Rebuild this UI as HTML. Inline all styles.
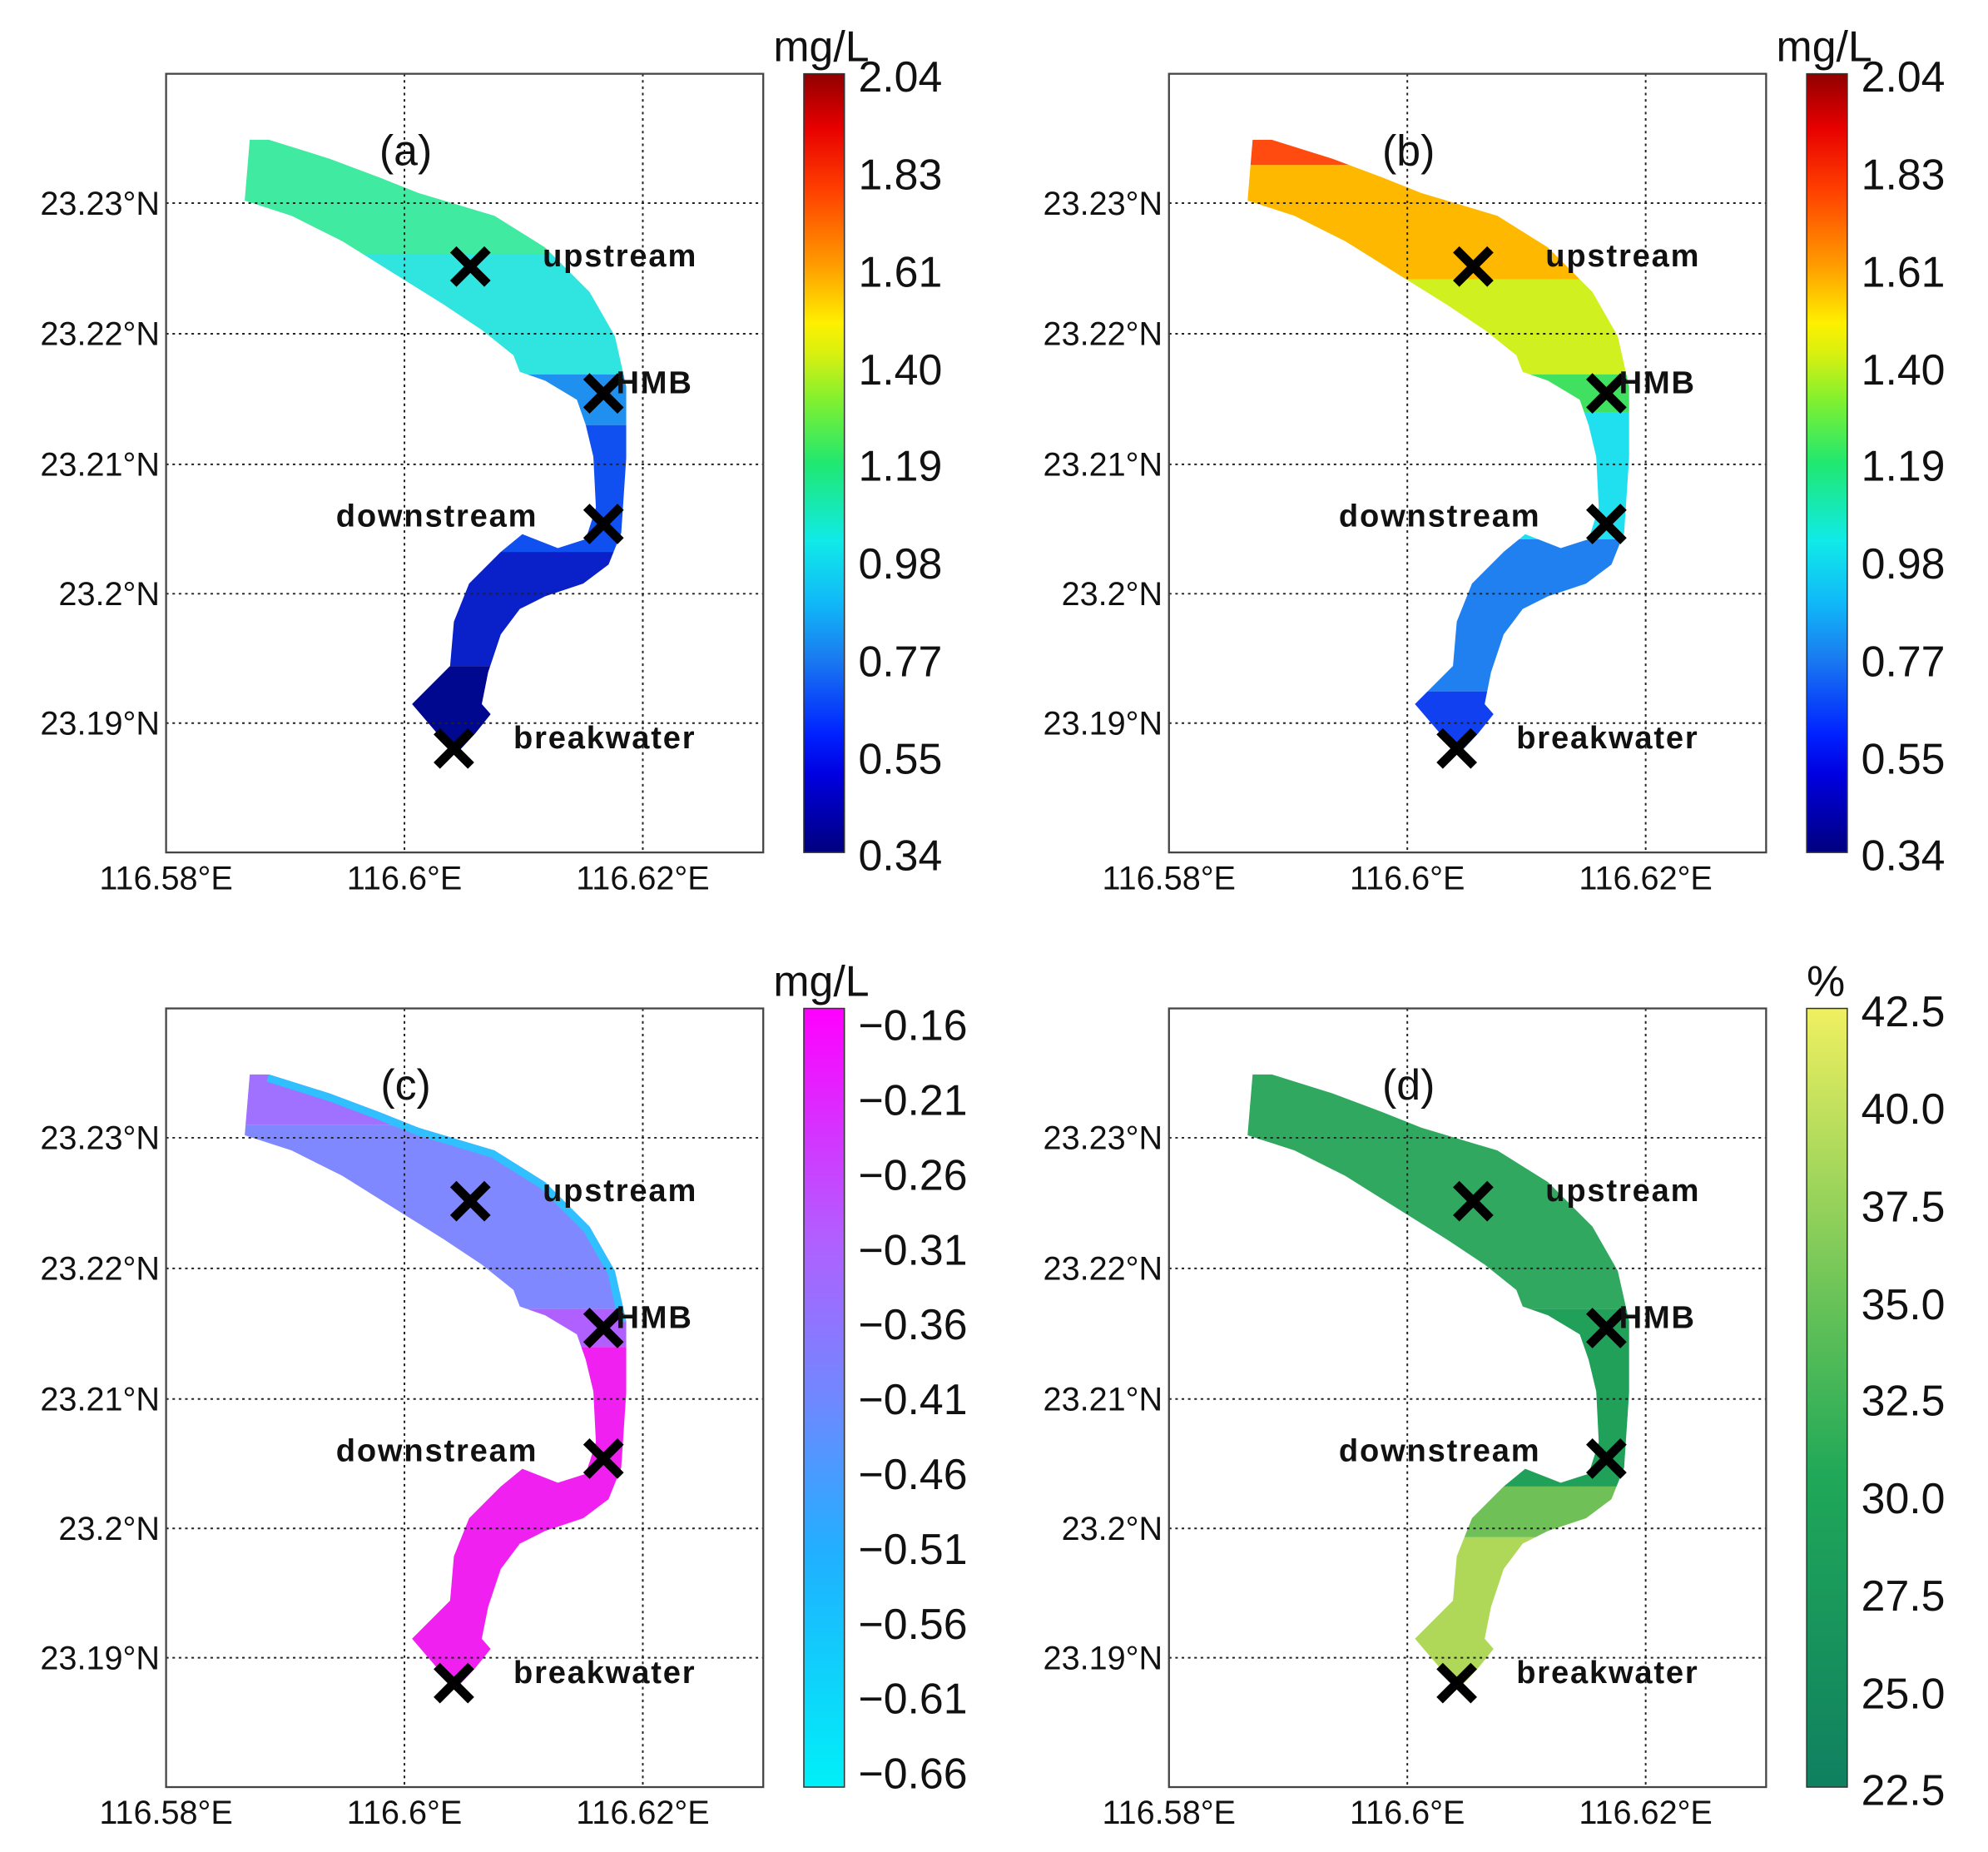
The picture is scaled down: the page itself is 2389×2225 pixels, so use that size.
<!DOCTYPE html>
<html><head><meta charset="utf-8"><style>
html,body{margin:0;padding:0;background:#fff;}
svg{display:block;}
text{font-family:"Liberation Sans","DejaVu Sans",sans-serif;fill:#111;}
.t{font-size:26px;}
.c{font-size:34px;}
.b{font-size:25px;font-weight:bold;letter-spacing:1.2px;}
.g{stroke:#222;stroke-width:1.3;stroke-dasharray:2,3;}
</style></head><body>
<svg width="2389" height="2225" viewBox="0 0 1568 1460" xmlns="http://www.w3.org/2000/svg">
<defs>
<path id="river" d="M197,110 L212,110 L260,125 L300,140 L330,152 L390,170 L430,195 L465,230 L485,265 L494,305 L494,360 L490,420 L480,445 L460,460 L430,470 L410,480 L395,500 L385,530 L380,555 L387,563 L375,578 L362,592 L355,590 L325,555 L355,525 L358,490 L370,460 L395,435 L412,421 L440,432 L462,425 L470,400 L468,360 L462,335 L455,315 L430,300 L410,293 L405,280 L380,260 L350,240 L310,215 L270,190 L230,170 L193,158 Z"/>
<clipPath id="rc"><use href="#river"/></clipPath>
<path id="xm" d="M-11,-16 L0,-5 L11,-16 L16,-11 L5,0 L16,11 L11,16 L0,5 L-11,16 L-16,11 L-5,0 L-16,-11 Z"/>
<linearGradient id="jet" x1="0" y1="1" x2="0" y2="0">
<stop offset="0" stop-color="#00007f"/><stop offset="0.1" stop-color="#0000e0"/><stop offset="0.15" stop-color="#0020ff"/><stop offset="0.25" stop-color="#1a7cf0"/><stop offset="0.32" stop-color="#10b8f8"/><stop offset="0.4" stop-color="#10eae8"/><stop offset="0.5" stop-color="#20e870"/><stop offset="0.58" stop-color="#80f030"/><stop offset="0.64" stop-color="#d8f010"/><stop offset="0.68" stop-color="#fff000"/><stop offset="0.75" stop-color="#ffa000"/><stop offset="0.85" stop-color="#ff4000"/><stop offset="0.93" stop-color="#e80000"/><stop offset="1" stop-color="#900000"/>
</linearGradient>
<linearGradient id="cool" x1="0" y1="1" x2="0" y2="0">
<stop offset="0" stop-color="#00f0f8"/><stop offset="0.3" stop-color="#20b0ff"/><stop offset="0.5" stop-color="#7088ff"/><stop offset="0.7" stop-color="#b060ff"/><stop offset="1" stop-color="#ff00ff"/>
</linearGradient>
<linearGradient id="summ" x1="0" y1="1" x2="0" y2="0">
<stop offset="0" stop-color="#108060"/><stop offset="0.4" stop-color="#20a858"/><stop offset="0.6" stop-color="#60c058"/><stop offset="1" stop-color="#f0f060"/>
</linearGradient>
</defs>

<g>
<g clip-path="url(#rc)">
<rect x="150" y="90" width="400" height="110" fill="#40eaa0"/>
<rect x="150" y="200" width="400" height="95" fill="#30e4e0"/>
<rect x="150" y="295" width="400" height="40" fill="#2090f0"/>
<rect x="150" y="335" width="400" height="100" fill="#1050f0"/>
<rect x="150" y="435" width="400" height="90" fill="#0a20c8"/>
<rect x="150" y="525" width="400" height="80" fill="#00088f"/>
</g>
</g>
<g transform="translate(791,0)">
<g clip-path="url(#rc)">
<rect x="150" y="90" width="400" height="40" fill="#ff4a10"/>
<rect x="150" y="130" width="400" height="90" fill="#ffb800"/>
<rect x="150" y="220" width="400" height="75" fill="#d0f020"/>
<rect x="150" y="295" width="400" height="30" fill="#40e060"/>
<rect x="150" y="325" width="400" height="100" fill="#20e0f0"/>
<rect x="150" y="425" width="400" height="120" fill="#2080f0"/>
<rect x="150" y="545" width="400" height="60" fill="#1040f0"/>
</g>
</g>
<g transform="translate(0,737)">
<g clip-path="url(#rc)">
<rect x="150" y="90" width="400" height="60" fill="#a070ff"/>
<rect x="150" y="150" width="400" height="145" fill="#8088ff"/>
<rect x="150" y="295" width="400" height="30" fill="#b060ff"/>
<rect x="150" y="325" width="400" height="280" fill="#f020f0"/>
</g>
<path d="M212,110 L260,125 L300,140 L330,152 L390,170 L430,195 L465,230 L485,265 L494,305" fill="none" stroke="#30c0ff" stroke-width="12" clip-path="url(#rc)"/>
</g>
<g transform="translate(791,737)">
<g clip-path="url(#rc)">
<rect x="150" y="90" width="400" height="205" fill="#30a860"/>
<rect x="150" y="295" width="400" height="140" fill="#20a058"/>
<rect x="150" y="435" width="400" height="40" fill="#70c058"/>
<rect x="150" y="475" width="400" height="130" fill="#b0d858"/>
</g>
</g>

<g>
<line class="g" x1="319" y1="58" x2="319" y2="672"/><line class="g" x1="507" y1="58" x2="507" y2="672"/>
<line class="g" x1="131" y1="160" x2="602" y2="160"/><line class="g" x1="131" y1="263" x2="602" y2="263"/><line class="g" x1="131" y1="366" x2="602" y2="366"/><line class="g" x1="131" y1="468" x2="602" y2="468"/><line class="g" x1="131" y1="570" x2="602" y2="570"/>
<rect x="131" y="58" width="471" height="614" fill="none" stroke="#444" stroke-width="1.5"/>
<text class="t" x="126" y="169" text-anchor="end">23.23°N</text><text class="t" x="126" y="272" text-anchor="end">23.22°N</text><text class="t" x="126" y="375" text-anchor="end">23.21°N</text><text class="t" x="126" y="477" text-anchor="end">23.2°N</text><text class="t" x="126" y="579" text-anchor="end">23.19°N</text>
<text class="t" x="131" y="701" text-anchor="middle">116.58°E</text><text class="t" x="319" y="701" text-anchor="middle">116.6°E</text><text class="t" x="507" y="701" text-anchor="middle">116.62°E</text>
<text class="c" x="320" y="130" text-anchor="middle">(a)</text>
<use href="#xm" x="371" y="210"/><use href="#xm" x="476" y="310"/><use href="#xm" x="476" y="413"/><use href="#xm" x="358" y="590"/>
<text class="b" x="428" y="210">upstream</text><text class="b" x="486" y="310">HMB</text><text class="b" x="265" y="415">downstream</text><text class="b" x="405" y="590">breakwater</text>
<rect x="634" y="58" width="32" height="614" fill="url(#jet)" stroke="#333"/>
<text class="c" x="610" y="48">mg/L</text>
<text class="c" x="677" y="72">2.04</text><text class="c" x="677" y="149">1.83</text><text class="c" x="677" y="226">1.61</text><text class="c" x="677" y="303">1.40</text><text class="c" x="677" y="379">1.19</text><text class="c" x="677" y="456">0.98</text><text class="c" x="677" y="533">0.77</text><text class="c" x="677" y="610">0.55</text><text class="c" x="677" y="686">0.34</text>
</g>
<g transform="translate(791,0)">
<line class="g" x1="319" y1="58" x2="319" y2="672"/><line class="g" x1="507" y1="58" x2="507" y2="672"/>
<line class="g" x1="131" y1="160" x2="602" y2="160"/><line class="g" x1="131" y1="263" x2="602" y2="263"/><line class="g" x1="131" y1="366" x2="602" y2="366"/><line class="g" x1="131" y1="468" x2="602" y2="468"/><line class="g" x1="131" y1="570" x2="602" y2="570"/>
<rect x="131" y="58" width="471" height="614" fill="none" stroke="#444" stroke-width="1.5"/>
<text class="t" x="126" y="169" text-anchor="end">23.23°N</text><text class="t" x="126" y="272" text-anchor="end">23.22°N</text><text class="t" x="126" y="375" text-anchor="end">23.21°N</text><text class="t" x="126" y="477" text-anchor="end">23.2°N</text><text class="t" x="126" y="579" text-anchor="end">23.19°N</text>
<text class="t" x="131" y="701" text-anchor="middle">116.58°E</text><text class="t" x="319" y="701" text-anchor="middle">116.6°E</text><text class="t" x="507" y="701" text-anchor="middle">116.62°E</text>
<text class="c" x="320" y="130" text-anchor="middle">(b)</text>
<use href="#xm" x="371" y="210"/><use href="#xm" x="476" y="310"/><use href="#xm" x="476" y="413"/><use href="#xm" x="358" y="590"/>
<text class="b" x="428" y="210">upstream</text><text class="b" x="486" y="310">HMB</text><text class="b" x="265" y="415">downstream</text><text class="b" x="405" y="590">breakwater</text>
<rect x="634" y="58" width="32" height="614" fill="url(#jet)" stroke="#333"/>
<text class="c" x="610" y="48">mg/L</text>
<text class="c" x="677" y="72">2.04</text><text class="c" x="677" y="149">1.83</text><text class="c" x="677" y="226">1.61</text><text class="c" x="677" y="303">1.40</text><text class="c" x="677" y="379">1.19</text><text class="c" x="677" y="456">0.98</text><text class="c" x="677" y="533">0.77</text><text class="c" x="677" y="610">0.55</text><text class="c" x="677" y="686">0.34</text>
</g>
<g transform="translate(0,737)">
<line class="g" x1="319" y1="58" x2="319" y2="672"/><line class="g" x1="507" y1="58" x2="507" y2="672"/>
<line class="g" x1="131" y1="160" x2="602" y2="160"/><line class="g" x1="131" y1="263" x2="602" y2="263"/><line class="g" x1="131" y1="366" x2="602" y2="366"/><line class="g" x1="131" y1="468" x2="602" y2="468"/><line class="g" x1="131" y1="570" x2="602" y2="570"/>
<rect x="131" y="58" width="471" height="614" fill="none" stroke="#444" stroke-width="1.5"/>
<text class="t" x="126" y="169" text-anchor="end">23.23°N</text><text class="t" x="126" y="272" text-anchor="end">23.22°N</text><text class="t" x="126" y="375" text-anchor="end">23.21°N</text><text class="t" x="126" y="477" text-anchor="end">23.2°N</text><text class="t" x="126" y="579" text-anchor="end">23.19°N</text>
<text class="t" x="131" y="701" text-anchor="middle">116.58°E</text><text class="t" x="319" y="701" text-anchor="middle">116.6°E</text><text class="t" x="507" y="701" text-anchor="middle">116.62°E</text>
<text class="c" x="320" y="130" text-anchor="middle">(c)</text>
<use href="#xm" x="371" y="210"/><use href="#xm" x="476" y="310"/><use href="#xm" x="476" y="413"/><use href="#xm" x="358" y="590"/>
<text class="b" x="428" y="210">upstream</text><text class="b" x="486" y="310">HMB</text><text class="b" x="265" y="415">downstream</text><text class="b" x="405" y="590">breakwater</text>
<rect x="634" y="58" width="32" height="614" fill="url(#cool)" stroke="#333"/>
<text class="c" x="610" y="48">mg/L</text>
<text class="c" x="677" y="83">−0.16</text><text class="c" x="677" y="142">−0.21</text><text class="c" x="677" y="201">−0.26</text><text class="c" x="677" y="260">−0.31</text><text class="c" x="677" y="319">−0.36</text><text class="c" x="677" y="378">−0.41</text><text class="c" x="677" y="437">−0.46</text><text class="c" x="677" y="496">−0.51</text><text class="c" x="677" y="555">−0.56</text><text class="c" x="677" y="614">−0.61</text><text class="c" x="677" y="673">−0.66</text>
</g>
<g transform="translate(791,737)">
<line class="g" x1="319" y1="58" x2="319" y2="672"/><line class="g" x1="507" y1="58" x2="507" y2="672"/>
<line class="g" x1="131" y1="160" x2="602" y2="160"/><line class="g" x1="131" y1="263" x2="602" y2="263"/><line class="g" x1="131" y1="366" x2="602" y2="366"/><line class="g" x1="131" y1="468" x2="602" y2="468"/><line class="g" x1="131" y1="570" x2="602" y2="570"/>
<rect x="131" y="58" width="471" height="614" fill="none" stroke="#444" stroke-width="1.5"/>
<text class="t" x="126" y="169" text-anchor="end">23.23°N</text><text class="t" x="126" y="272" text-anchor="end">23.22°N</text><text class="t" x="126" y="375" text-anchor="end">23.21°N</text><text class="t" x="126" y="477" text-anchor="end">23.2°N</text><text class="t" x="126" y="579" text-anchor="end">23.19°N</text>
<text class="t" x="131" y="701" text-anchor="middle">116.58°E</text><text class="t" x="319" y="701" text-anchor="middle">116.6°E</text><text class="t" x="507" y="701" text-anchor="middle">116.62°E</text>
<text class="c" x="320" y="130" text-anchor="middle">(d)</text>
<use href="#xm" x="371" y="210"/><use href="#xm" x="476" y="310"/><use href="#xm" x="476" y="413"/><use href="#xm" x="358" y="590"/>
<text class="b" x="428" y="210">upstream</text><text class="b" x="486" y="310">HMB</text><text class="b" x="265" y="415">downstream</text><text class="b" x="405" y="590">breakwater</text>
<rect x="634" y="58" width="32" height="614" fill="url(#summ)" stroke="#333"/>
<text class="c" x="634" y="48">%</text>
<text class="c" x="677" y="72">42.5</text><text class="c" x="677" y="149">40.0</text><text class="c" x="677" y="226">37.5</text><text class="c" x="677" y="303">35.0</text><text class="c" x="677" y="379">32.5</text><text class="c" x="677" y="456">30.0</text><text class="c" x="677" y="533">27.5</text><text class="c" x="677" y="610">25.0</text><text class="c" x="677" y="686">22.5</text>
</g>
</svg>
</body></html>
